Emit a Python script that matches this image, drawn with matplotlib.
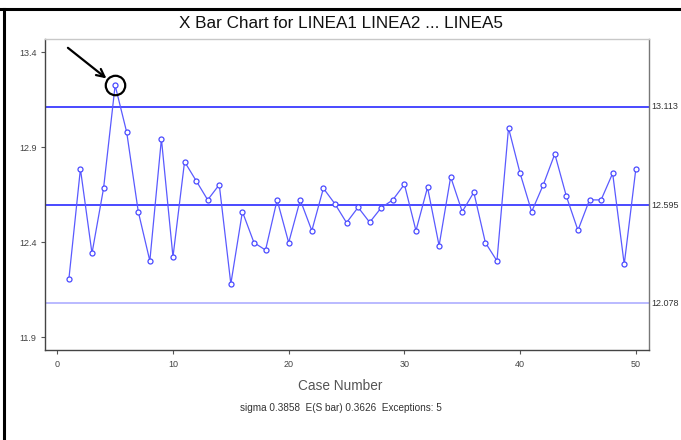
import matplotlib
matplotlib.use("Agg")
import matplotlib.pyplot as plt
from matplotlib.lines import Line2D

plt.rcParams['font.family'] = ['Liberation Sans', 'DejaVu Sans']

case_numbers = list(range(1, 51))
xbar_values = [12.205, 12.786, 12.342, 12.684, 13.226, 12.979, 12.561, 12.302, 12.944, 12.323,
               12.824, 12.724, 12.623, 12.703, 12.181, 12.561, 12.398, 12.359, 12.623, 12.398,
               12.623, 12.461, 12.684, 12.602, 12.503, 12.584, 12.505, 12.582, 12.623, 12.705,
               12.461, 12.689, 12.382, 12.744, 12.561, 12.663, 12.398, 12.302, 13.002, 12.763,
               12.561, 12.702, 12.865, 12.642, 12.463, 12.623, 12.623, 12.763, 12.284, 12.784]
ucl = 13.113
center = 12.595
lcl = 12.078
control_labels = ["13.113", "12.595", "12.078"]
highlight_case = 5
x_ticks = [0, 10, 20, 30, 40, 50]
y_ticks = [11.9, 12.4, 12.9, 13.4]
title = "X Bar Chart for LINEA1 LINEA2 ... LINEA5"
xlabel = "Case Number"
footnote = "sigma 0.3858  E(S bar) 0.3626  Exceptions: 5"

fig = plt.figure(figsize=(6.81, 4.40), dpi=100)
ax = fig.add_axes([0.0661, 0.2045, 0.8874, 0.7061])

ax.axhline(ucl, color='#3a3aff', lw=1.3, zorder=2)
ax.axhline(center, color='#3a3aff', lw=1.3, zorder=2)
ax.axhline(lcl, color='#b4b4ff', lw=1.3, zorder=2)

ax.plot(case_numbers, xbar_values, color='#5a5aff', lw=0.9, marker='o', ms=3.6,
        mfc='white', mec='#4a4aff', mew=0.9, zorder=3)

hv = xbar_values[highlight_case - 1]
ax.plot([highlight_case], [hv], marker='o', ms=14, mfc='none', mec='black', mew=1.6, zorder=4)
ax.annotate('', xy=(highlight_case, hv), xycoords='data',
            xytext=(-34, 27), textcoords='offset points',
            arrowprops=dict(arrowstyle='->', color='black', lw=1.6,
                            shrinkA=0, shrinkB=8, mutation_scale=14))

ax.set_xlim(-1.06, 51.17)
ax.set_ylim(11.833, 13.468)
ax.set_xticks(x_ticks)
ax.set_yticks(y_ticks)
ax.set_yticklabels([f"{v:.1f}" for v in y_ticks])
ax.tick_params(axis='both', direction='out', length=3, width=0.8, color='#555555',
               labelsize=6.5, labelcolor='#444444', pad=3)
ax.tick_params(axis='x', pad=4)

for lbl, yv in zip(control_labels, [ucl, center, lcl]):
    ax.text(1.003, yv, lbl, transform=ax.get_yaxis_transform(), fontsize=6.5,
            color='#333333', va='center', ha='left', clip_on=False)

ax.spines['top'].set_color('#c8c8c8')
ax.spines['right'].set_color('#777777')
ax.spines['left'].set_color('#444444')
ax.spines['bottom'].set_color('#444444')
for s in ax.spines.values():
    s.set_linewidth(1.0)

fig.text(0.5, 1 - 23 / 440, title, ha='center', va='center', fontsize=12.3, color='#111111')
fig.text(0.5, 1 - 386 / 440, xlabel, ha='center', va='center', fontsize=9.8, color='#555555')
fig.text(0.5, 1 - 408 / 440, footnote, ha='center', va='center', fontsize=7.2, color='#333333')

fig.add_artist(Line2D([0, 1], [1 - 9 / 440, 1 - 9 / 440], transform=fig.transFigure,
                      color='black', lw=2.2))
fig.add_artist(Line2D([3.5 / 681, 3.5 / 681], [0, 1 - 9 / 440], transform=fig.transFigure,
                      color='black', lw=2.2))

fig.savefig('out.png', dpi=100)
